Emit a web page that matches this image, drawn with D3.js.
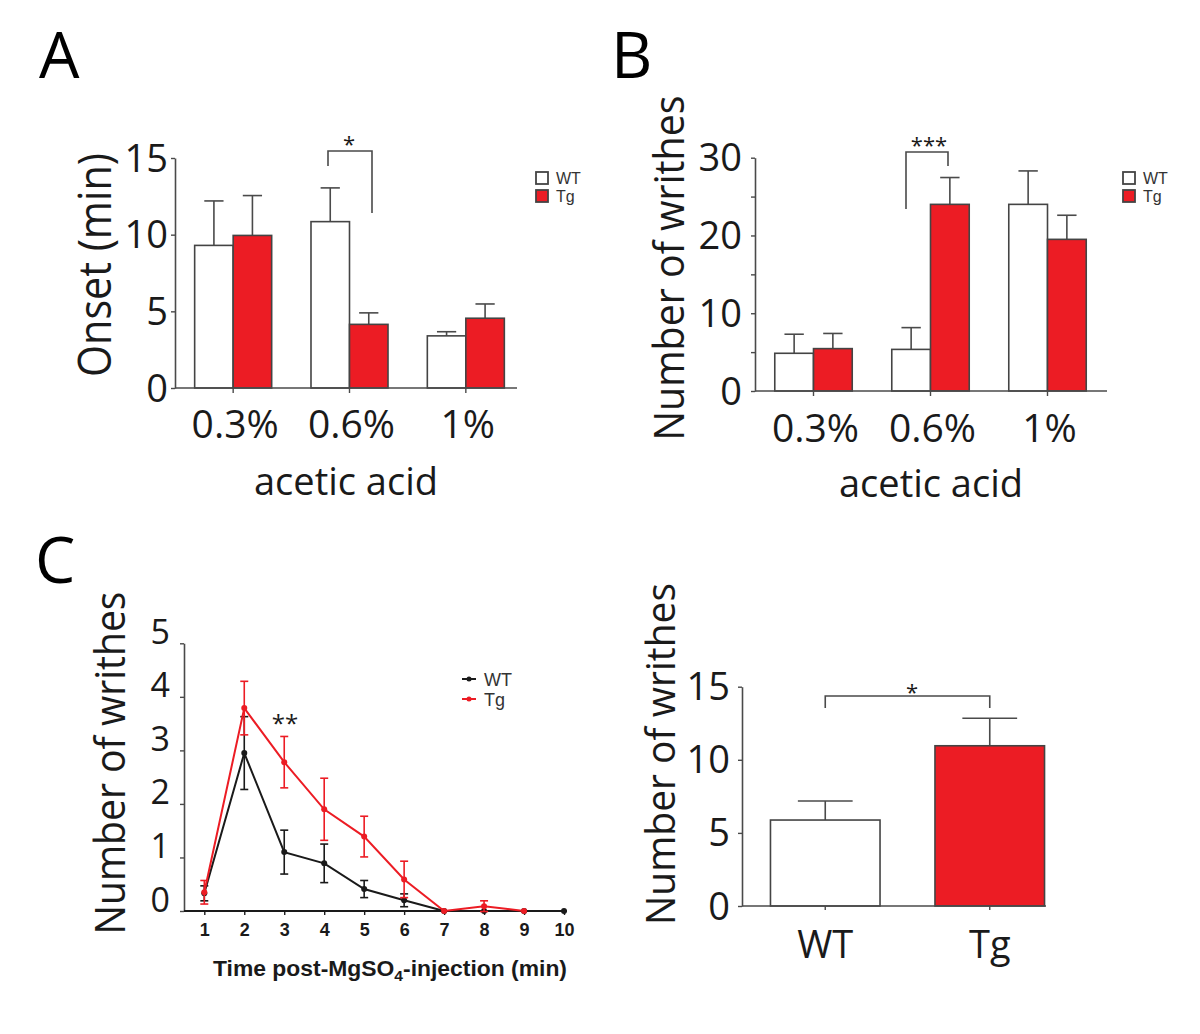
<!DOCTYPE html>
<html><head><meta charset="utf-8">
<script src="https://cdn.jsdelivr.net/npm/d3@7"></script>
<style>body{margin:0;background:#fff} svg{display:block}</style>
</head><body>
<svg id="c" width="1200" height="1034"></svg>
<script>
// ---------- DATA ----------
const doseCategories = ['0.3%', '0.6%', '1%'];
const groups = ['WT', 'Tg'];

// Panel A: onset (min)
const onsetWT = [9.3, 10.85, 3.4];
const onsetWTErr = [2.9, 2.2, 0.27];
const onsetTg = [9.95, 4.15, 4.55];
const onsetTgErr = [2.6, 0.75, 0.93];
const onsetTicks = [0, 5, 10, 15];

// Panel B: number of writhes (acetic acid)
const writhesWT = [4.85, 5.35, 24.0];
const writhesWTErr = [2.45, 2.8, 4.3];
const writhesTg = [5.45, 24.0, 19.5];
const writhesTgErr = [1.95, 3.45, 3.1];
const writhesTicks = [0, 5, 10, 15, 20, 25, 30];

// Panel C left: time course after MgSO4
const timeMin = [1, 2, 3, 4, 5, 6, 7, 8, 9, 10];
const mgWT = [0.33, 2.95, 1.1, 0.89, 0.41, 0.2, 0, 0, 0, 0];
const mgWTErr = [0.14, 0.68, 0.41, 0.36, 0.16, 0.12, 0, 0, 0, 0];
const mgTg = [0.35, 3.79, 2.78, 1.9, 1.39, 0.59, 0, 0.09, 0, null];
const mgTgErr = [0.22, 0.5, 0.48, 0.58, 0.38, 0.34, 0, 0.1, 0, null];
const mgYTicks = [0, 1, 2, 3, 4, 5];

// Panel C right: total writhes
const totalMean = [5.88, 10.96];
const totalErr = [1.3, 1.88];
const totalTicks = [0, 5, 10, 15];

// ---------- DRAWING ----------
const svg = d3.select('#c');
const FONT = "'Open Sans', sans-serif";
const ARIAL = "'Liberation Sans', Arial, sans-serif";
const RED = '#ec1c24', GRAY = '#4a4a4a', INK = '#1a1a1a';

function star(x, cy, txt, size) {
  svg.append('text').attr('x', x).attr('y', cy + size * 0.6)
    .attr('text-anchor', 'middle').attr('font-family', FONT)
    .attr('font-size', size).attr('fill', INK).text(txt);
}
function vtitle(bx, cy, txt, size, len) {
  svg.append('text').attr('transform', `translate(${bx},${cy}) rotate(-90)`)
    .attr('text-anchor', 'middle').attr('font-family', FONT).attr('font-size', size)
    .attr('fill', INK).attr('textLength', len).attr('lengthAdjust', 'spacingAndGlyphs').text(txt);
}
function letter(x, by, t) {
  svg.append('text').attr('x', x).attr('y', by).attr('font-family', FONT)
    .attr('font-size', 64).attr('fill', '#000').text(t);
}
function yAxis(y, axisX, ticks, labelFn, size, pad, dyPx) {
  const g = svg.append('g').attr('transform', `translate(${axisX},0)`)
    .call(d3.axisLeft(y).tickValues(ticks).tickSize(4).tickSizeOuter(0).tickPadding(pad).tickFormat(labelFn));
  g.select('.domain').attr('stroke', GRAY).attr('stroke-width', 1.6);
  g.selectAll('.tick line').attr('stroke', GRAY).attr('stroke-width', 1.4);
  g.selectAll('.tick text').attr('font-family', FONT).attr('font-size', size)
    .attr('fill', INK).attr('dy', null).attr('y', dyPx);
  return g;
}
function bracket(x1, x2, yTop, yL, yR) {
  svg.append('path').attr('d', `M${x1},${yL}V${yTop}H${x2}V${yR}`)
    .attr('fill', 'none').attr('stroke', GRAY).attr('stroke-width', 1.6);
}
function squareLegend(x, y) {
  [['WT', '#fff'], ['Tg', RED]].forEach((d, i) => {
    svg.append('rect').attr('x', x).attr('y', y + i * 18).attr('width', 12).attr('height', 12)
      .attr('fill', d[1]).attr('stroke', '#444').attr('stroke-width', 1.8);
    svg.append('text').attr('x', x + 20).attr('y', y + i * 18 + 12).attr('font-family', ARIAL)
      .attr('font-size', 16).attr('fill', '#333').text(d[0]);
  });
}

function groupedBars(o) {
  const y = d3.scaleLinear().domain(o.yDomain).range(o.yRange);
  const x0 = d3.scaleBand().domain(doseCategories).range(o.xRange).paddingInner(0.338).paddingOuter(0.169);
  const x1 = d3.scaleBand().domain(groups).range([0, x0.bandwidth()]);
  const rows = [];
  doseCategories.forEach((c, i) => {
    rows.push({ c, s: 'WT', v: o.wt[i], e: o.wtErr[i] });
    rows.push({ c, s: 'Tg', v: o.tg[i], e: o.tgErr[i] });
  });
  const bw = x1.bandwidth();
  const g = svg.append('g');
  rows.forEach(d => {
    const cx = x0(d.c) + x1(d.s) + bw / 2;
    g.append('line').attr('x1', cx).attr('x2', cx).attr('y1', y(d.v)).attr('y2', y(d.v + d.e))
      .attr('stroke', GRAY).attr('stroke-width', 1.6);
    g.append('line').attr('x1', cx - bw / 4).attr('x2', cx + bw / 4).attr('y1', y(d.v + d.e)).attr('y2', y(d.v + d.e))
      .attr('stroke', GRAY).attr('stroke-width', 1.6);
  });
  g.selectAll('rect.bar').data(rows).join('rect').attr('class', 'bar')
    .attr('x', d => x0(d.c) + x1(d.s)).attr('width', bw)
    .attr('y', d => y(d.v)).attr('height', d => y(0) - y(d.v))
    .attr('fill', d => d.s === 'WT' ? '#fff' : RED)
    .attr('stroke', '#444').attr('stroke-width', 1.6);
  svg.append('line').attr('x1', o.xRange[0]).attr('x2', o.xEnd).attr('y1', y(0)).attr('y2', y(0))
    .attr('stroke', GRAY).attr('stroke-width', 1.6);
  const gx = svg.append('g').attr('transform', `translate(0,${y(0)})`)
    .call(d3.axisBottom(x0).tickSize(5).tickSizeOuter(0).tickPadding(0).tickFormat(''));
  gx.select('.domain').remove();
  gx.selectAll('.tick line').attr('stroke', GRAY).attr('stroke-width', 1.4);
  doseCategories.forEach(c => {
    svg.append('text').attr('x', x0(c) + x0.bandwidth() / 2 + 2).attr('y', o.catBase)
      .attr('text-anchor', 'middle').attr('font-family', FONT).attr('font-size', 39)
      .attr('fill', INK).text(c);
  });
  svg.append('text').attr('x', o.titleX).attr('y', o.titleBase).attr('text-anchor', 'middle')
    .attr('font-family', FONT).attr('font-size', 38).attr('fill', INK).text('acetic acid');
  yAxis(y, o.xRange[0], o.ticks, o.labelFn, 38, o.pad, 13);
  return { x0, x1, y };
}

// Panel A
letter(39, 78, 'A');
groupedBars({
  yDomain: [0, 15], yRange: [388, 158], xRange: [175, 524], xEnd: 517,
  wt: onsetWT, wtErr: onsetWTErr, tg: onsetTg, tgErr: onsetTgErr,
  ticks: onsetTicks, labelFn: d => d, pad: 3, catBase: 438, titleX: 346, titleBase: 495
});
vtitle(111, 265, 'Onset (min)', 46, 224);
bracket(328, 372, 151, 166, 213);
star(349, 139, '*', 22);
squareLegend(536, 172);

// Panel B
letter(611, 78, 'B');
groupedBars({
  yDomain: [0, 30], yRange: [391, 157.7], xRange: [755, 1106], xEnd: 1107,
  wt: writhesWT, wtErr: writhesWTErr, tg: writhesTg, tgErr: writhesTgErr,
  ticks: writhesTicks, labelFn: d => (d % 10 === 0 ? d : ''), pad: 9, catBase: 442, titleX: 931, titleBase: 497
});
vtitle(684, 268, 'Number of writhes', 42, 345);
bracket(906, 948, 152, 209, 166);
star(929, 140, '***', 22);
squareLegend(1123, 172);

// Panel C left: line chart
letter(35, 583, 'C');
{
  const x = d3.scaleLinear().domain([1, 10]).range([204.3, 564]);
  const y = d3.scaleLinear().domain([0, 5]).range([911, 643.3]);
  yAxis(y, 184, mgYTicks, d => d, 34, 10, 0);
  svg.append('line').attr('x1', 184).attr('x2', 567).attr('y1', y(0)).attr('y2', y(0))
    .attr('stroke', INK).attr('stroke-width', 1.8);
  const gx = svg.append('g').attr('transform', `translate(0,${y(0)})`)
    .call(d3.axisBottom(x).tickValues(timeMin).tickSize(4).tickSizeOuter(0).tickPadding(8).tickFormat(d3.format('d')));
  gx.select('.domain').remove();
  gx.selectAll('.tick line').attr('stroke', INK).attr('stroke-width', 1.4);
  gx.selectAll('.tick text').attr('font-family', ARIAL).attr('font-weight', 'bold')
    .attr('font-size', 18).attr('fill', INK);
  const series = [
    { name: 'WT', m: mgWT, e: mgWTErr, col: INK },
    { name: 'Tg', m: mgTg, e: mgTgErr, col: RED }
  ];
  series.forEach(s => {
    const pts = timeMin.map((t, i) => ({ t, v: s.m[i], e: s.e[i] })).filter(d => d.v !== null);
    const g = svg.append('g');
    pts.filter(d => d.e > 0).forEach(d => {
      g.append('line').attr('x1', x(d.t)).attr('x2', x(d.t)).attr('y1', y(d.v - d.e)).attr('y2', y(d.v + d.e))
        .attr('stroke', s.col).attr('stroke-width', 1.6);
      [d.v - d.e, d.v + d.e].forEach(v => g.append('line').attr('x1', x(d.t) - 4).attr('x2', x(d.t) + 4)
        .attr('y1', y(v)).attr('y2', y(v)).attr('stroke', s.col).attr('stroke-width', 1.6));
    });
    g.append('path').datum(pts).attr('fill', 'none').attr('stroke', s.col).attr('stroke-width', 2)
      .attr('d', d3.line().x(d => x(d.t)).y(d => y(d.v)));
    g.selectAll('circle').data(pts).join('circle').attr('cx', d => x(d.t)).attr('cy', d => y(d.v))
      .attr('r', 3).attr('fill', s.col);
  });
  series.forEach((s, i) => {
    const ly = 679 + i * 20;
    svg.append('line').attr('x1', 462).attr('x2', 476).attr('y1', ly).attr('y2', ly)
      .attr('stroke', s.col).attr('stroke-width', 2);
    svg.append('circle').attr('cx', 469).attr('cy', ly).attr('r', 2.5).attr('fill', s.col);
    svg.append('text').attr('x', 484).attr('y', ly + 6.5).attr('font-family', ARIAL)
      .attr('font-size', 18).attr('fill', '#333').text(s.name);
  });
  star(285, 718, '**', 24);
  const tt = svg.append('text').attr('x', 390).attr('y', 976).attr('text-anchor', 'middle')
    .attr('font-family', ARIAL).attr('font-weight', 'bold').attr('font-size', 22).attr('fill', INK)
    .attr('textLength', 354).attr('lengthAdjust', 'spacingAndGlyphs');
  tt.append('tspan').text('Time post-MgSO');
  tt.append('tspan').attr('font-size', 15).attr('dy', 5).text('4');
  tt.append('tspan').attr('dy', -5).text('-injection (min)');
  vtitle(125, 763, 'Number of writhes', 42, 343);
}

// Panel C right: total bar chart
{
  const y = d3.scaleLinear().domain([0, 15]).range([906, 686.7]);
  const x = d3.scaleBand().domain(groups).range([743, 1072]).paddingInner(0.334).paddingOuter(0.167);
  const rows = groups.map((g, i) => ({ g, v: totalMean[i], e: totalErr[i] }));
  const bw = x.bandwidth();
  rows.forEach(d => {
    const cx = x(d.g) + bw / 2;
    svg.append('line').attr('x1', cx).attr('x2', cx).attr('y1', y(d.v)).attr('y2', y(d.v + d.e))
      .attr('stroke', GRAY).attr('stroke-width', 1.6);
    svg.append('line').attr('x1', cx - bw / 4).attr('x2', cx + bw / 4).attr('y1', y(d.v + d.e)).attr('y2', y(d.v + d.e))
      .attr('stroke', GRAY).attr('stroke-width', 1.6);
  });
  svg.selectAll('rect.tot').data(rows).join('rect').attr('class', 'tot')
    .attr('x', d => x(d.g)).attr('width', bw).attr('y', d => y(d.v)).attr('height', d => y(0) - y(d.v))
    .attr('fill', d => d.g === 'WT' ? '#fff' : RED).attr('stroke', '#444').attr('stroke-width', 1.6);
  svg.append('line').attr('x1', 742).attr('x2', 1046).attr('y1', y(0)).attr('y2', y(0))
    .attr('stroke', GRAY).attr('stroke-width', 1.6);
  const gx = svg.append('g').attr('transform', `translate(0,${y(0)})`)
    .call(d3.axisBottom(x).tickSize(4).tickSizeOuter(0).tickPadding(0).tickFormat(''));
  gx.select('.domain').remove();
  gx.selectAll('.tick line').attr('stroke', GRAY).attr('stroke-width', 1.4);
  groups.forEach(g => {
    svg.append('text').attr('x', x(g) + bw / 2).attr('y', 958).attr('text-anchor', 'middle')
      .attr('font-family', FONT).attr('font-size', 38).attr('fill', INK).text(g);
  });
  yAxis(y, 742, totalTicks, d => d, 38, 8, 13);
  bracket(x('WT') + bw / 2, x('Tg') + bw / 2, 696, 708, 708);
  star(912, 687, '*', 22);
  vtitle(675, 754, 'Number of writhes', 41, 342);
}
</script>
</body></html>
